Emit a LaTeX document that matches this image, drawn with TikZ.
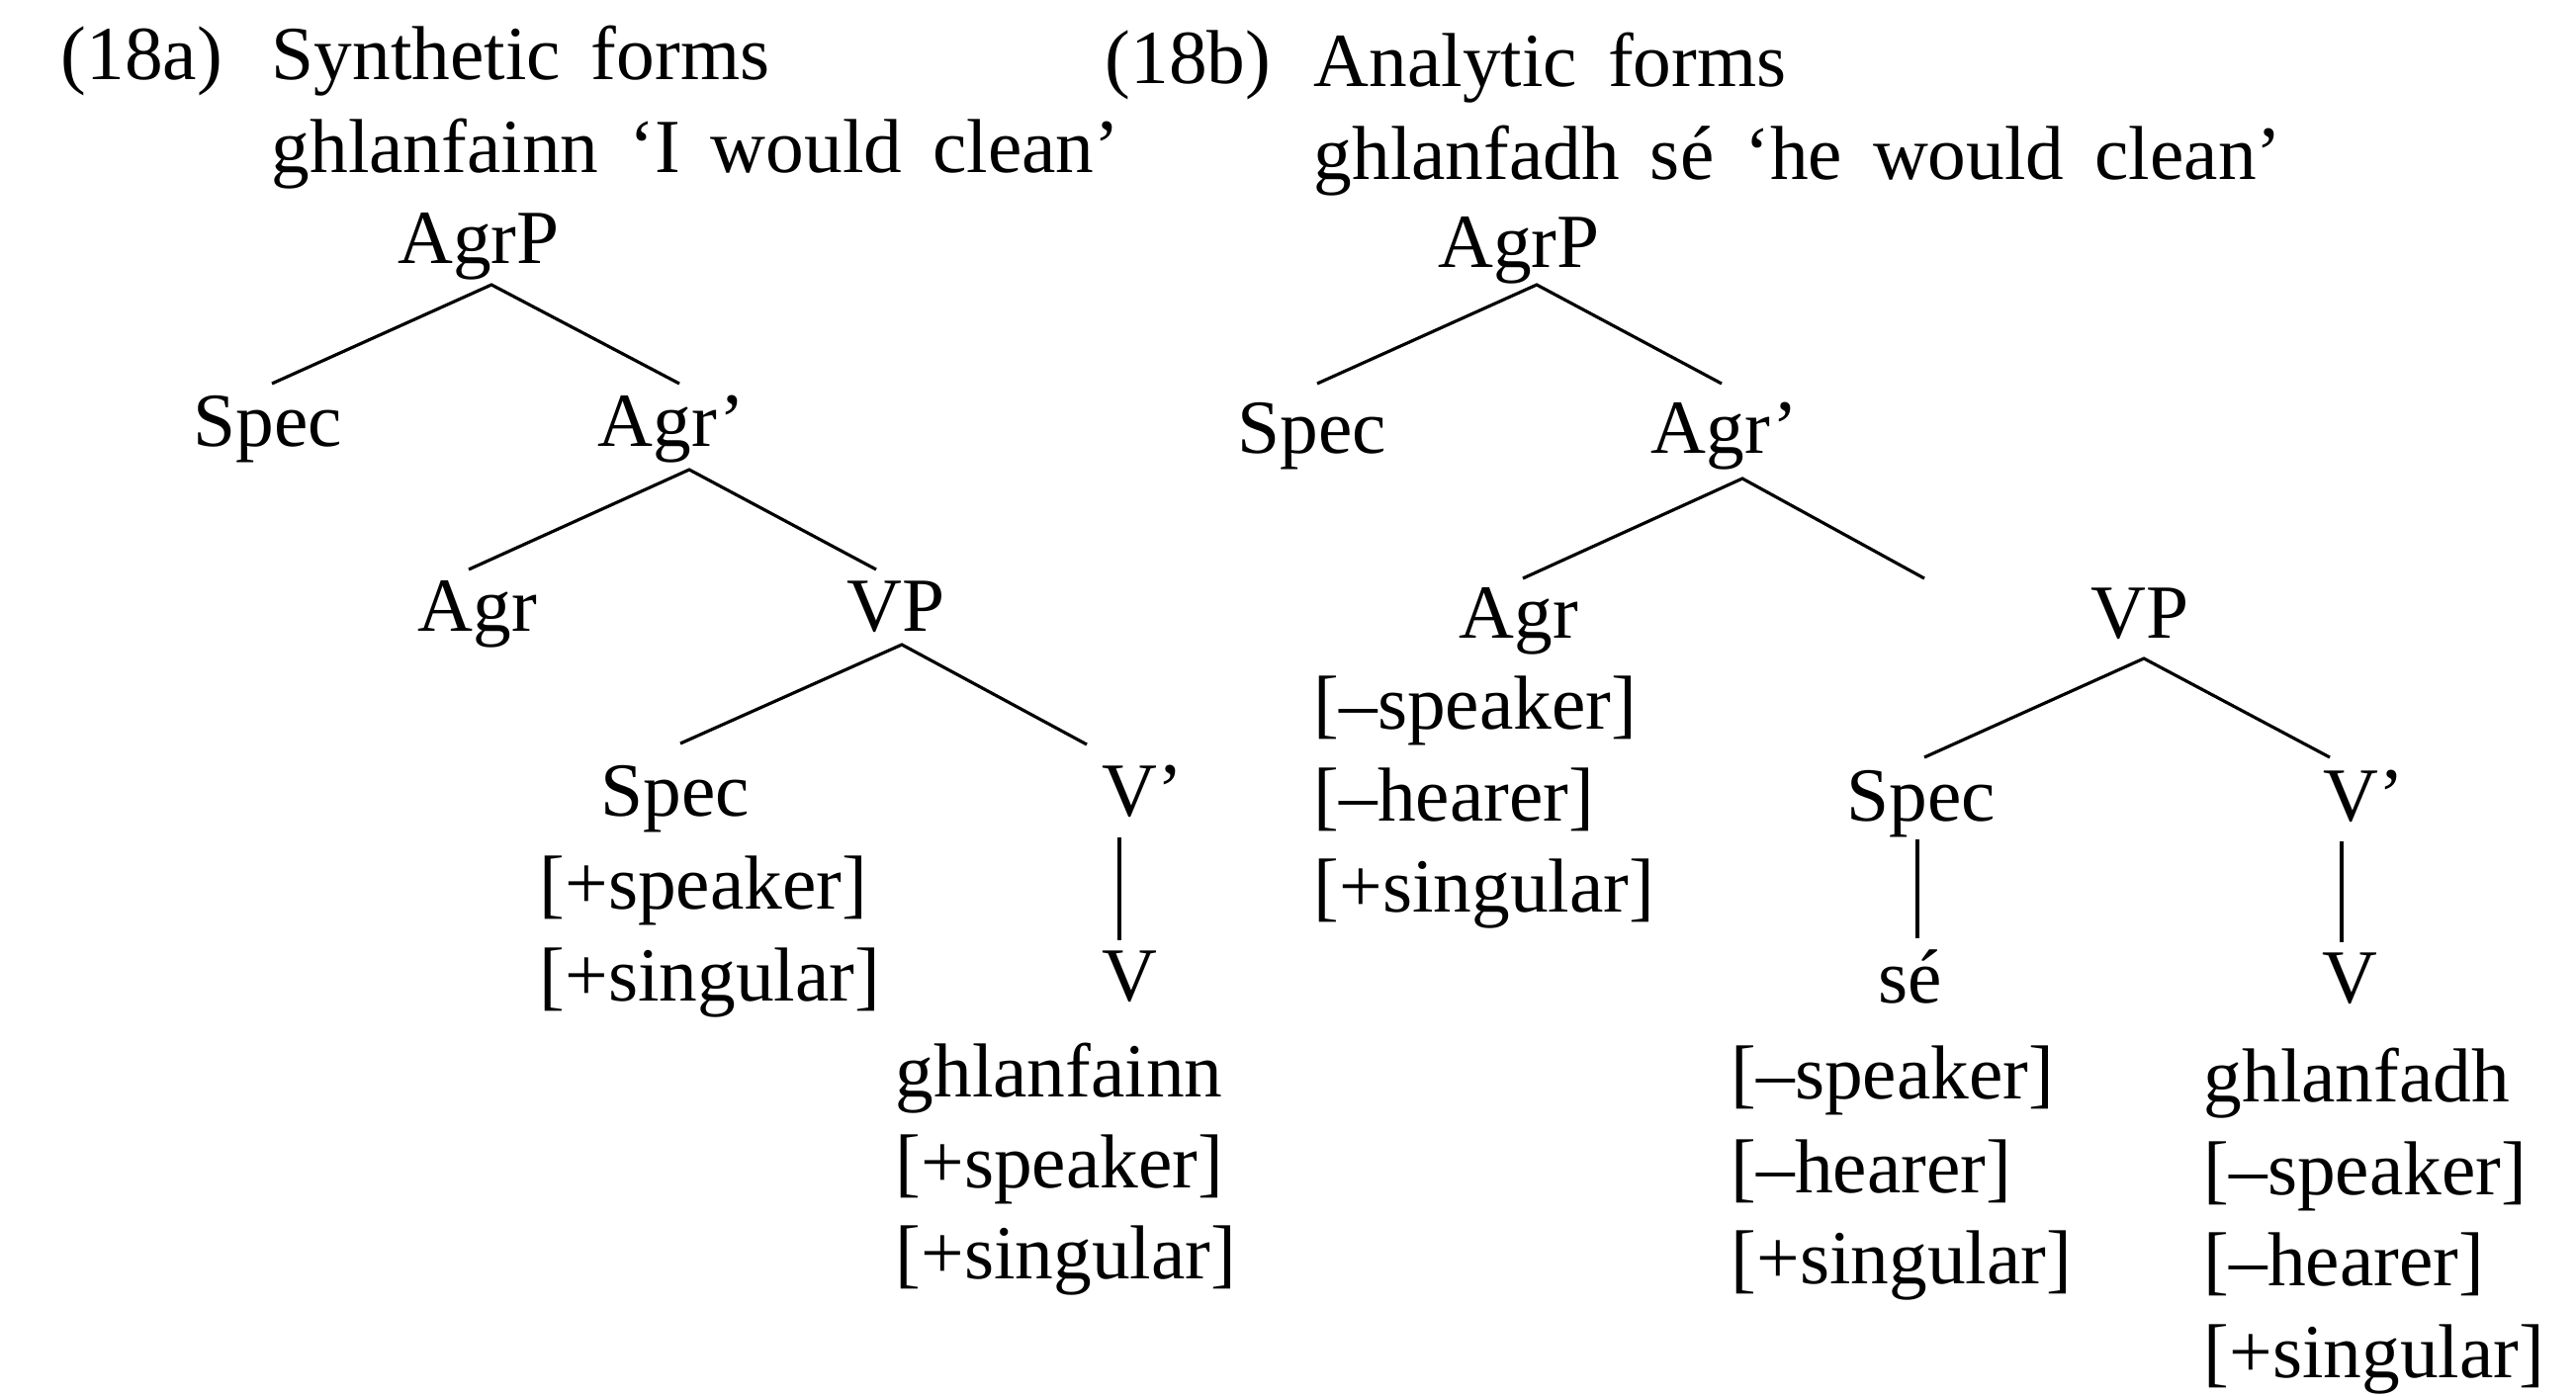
\documentclass[tikz,border=0pt]{standalone}
\usepackage{fontspec}
\setmainfont{Liberation Serif}
\usetikzlibrary{calc}
% heading lines are set with wider interword spaces
\newcommand\headingfont{\fontsize{22}{26}\selectfont\spaceskip 0.4em\relax}
\begin{document}
\begin{tikzpicture}[x=0.01cm,y=-0.01cm,
  lbl/.style={inner sep=0pt,anchor=base,font=\fontsize{22}{26}\selectfont},
  lbll/.style={lbl,anchor=base west},
  hdr/.style={lbll,font=\headingfont},
  branch/.style={line width=0.9pt}]
\useasboundingbox (0,0) rectangle (2605,1411);

% headings
\node[hdr] (numA) at (61,80) {(18a)};
\node[hdr] (hdrA1) at (274,80) {Synthetic forms};
\node[hdr] (hdrA2) at (274,174) {ghlanfainn ‘I would clean’};
\node[hdr] (numB) at (1117,84) {(18b)};
\node[hdr] (hdrB1) at (1328,87) {Analytic forms};
\node[hdr] (hdrB2) at (1328,181) {ghlanfadh sé ‘he would clean’};

% tree (18a)
\node[lbl] (agrpA) at (484,266) {AgrP};
\node[lbl] (specA) at (271,451) {Spec};
\node[lbl] (agrbA) at (679,451) {Agr’};
\node[lbl] (agrA) at (483,638) {Agr};
\node[lbl] (vpA) at (906,638) {VP};
\node[lbl] (spectwoA) at (683,825) {Spec};
\node[lbl] (vbA) at (1155,825) {V’};
\node[lbll] (fA1) at (545,919) {[+speaker]};
\node[lbll] (fA2) at (545,1012) {[+singular]};
\node[lbl] (vA) at (1142,1012) {V};
\node[lbll] (wordA) at (905,1109) {ghlanfainn};
\node[lbll] (fA3) at (905,1201) {[+speaker]};
\node[lbll] (fA4) at (905,1293) {[+singular]};

\draw[branch] ($(specA.base)+(4,-63)$) -- ($(agrpA.base)+(13,22)$) -- ($(agrbA.base)+(8,-63)$);
\draw[branch] ($(agrA.base)+(-9,-62)$) -- ($(agrbA.base)+(18,24)$) -- ($(vpA.base)+(-20,-62)$);
\draw[branch] ($(spectwoA.base)+(5,-73)$) -- ($(vpA.base)+(6,14)$) -- ($(vbA.base)+(-56,-72)$);
\draw[branch] ($(vbA.base)+(-23,22)$) -- ($(vA.base)+(-10,-61)$);

% tree (18b)
\node[lbl] (agrpB) at (1536,270) {AgrP};
\node[lbl] (specB) at (1327,458) {Spec};
\node[lbl] (agrbB) at (1744,458) {Agr’};
\node[lbl] (agrB) at (1536,645) {Agr};
\node[lbl] (vpB) at (2164,645) {VP};
\node[lbll] (fB1) at (1328,737) {[–speaker]};
\node[lbll] (fB2) at (1328,830) {[–hearer]};
\node[lbll] (fB3) at (1328,922) {[+singular]};
\node[lbl] (spectwoB) at (1943,830) {Spec};
\node[lbl] (vbB) at (2390,830) {V’};
\node[lbl] (seB) at (1932,1014) {sé};
\node[lbl] (vB) at (2376,1014) {V};
\node[lbll] (fB4) at (1750,1111) {[–speaker]};
\node[lbll] (fB5) at (1750,1206) {[–hearer]};
\node[lbll] (fB6) at (1750,1298) {[+singular]};
\node[lbll] (wordB) at (2228,1114) {ghlanfadh};
\node[lbll] (fB7) at (2228,1208) {[–speaker]};
\node[lbll] (fB8) at (2228,1300) {[–hearer]};
\node[lbll] (fB9) at (2228,1393) {[+singular]};
\coordinate (agrbBend) at (1946,585);

\draw[branch] ($(specB.base)+(5,-70)$) -- ($(agrpB.base)+(18,18)$) -- ($(agrbB.base)+(-3,-70)$);
\draw[branch] ($(agrB.base)+(4,-60)$) -- ($(agrbB.base)+(18,26)$) -- (agrbBend);
\draw[branch] ($(spectwoB.base)+(3,-64)$) -- ($(vpB.base)+(4,21)$) -- ($(vbB.base)+(-34,-64)$);
\draw[branch] ($(spectwoB.base)+(-4,19)$) -- ($(seB.base)+(7,-65)$);
\draw[branch] ($(vbB.base)+(-22,21)$) -- ($(vB.base)+(-8,-61)$);
\end{tikzpicture}
\end{document}
